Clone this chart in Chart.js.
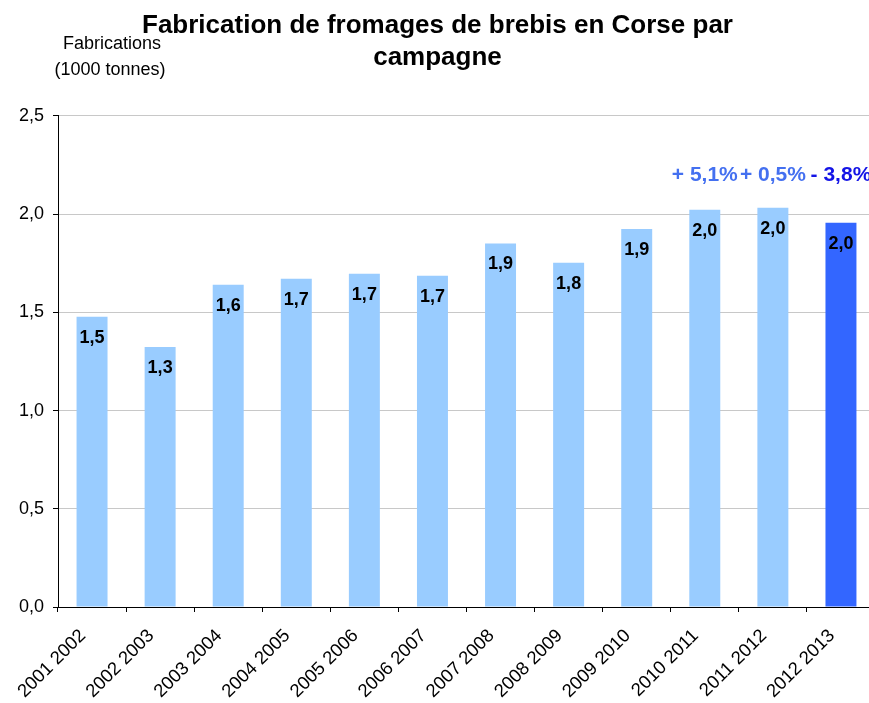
<!DOCTYPE html>
<html lang="fr">
<head>
    <meta charset="UTF-8">
    <title>Fabrication de fromages de brebis en Corse par campagne</title>
    <script src="https://cdn.jsdelivr.net/npm/chart.js"></script>
    <style>
        html, body { margin: 0; padding: 0; background: #fff; overflow: hidden; }
        #wrap { width: 880px; height: 703px; }
    </style>
</head>
<body>
    <div id="wrap"><canvas id="mainChart" width="880" height="703"></canvas></div>

    <script>
        // données (milliers de tonnes)
        const campagnes = ['2001 2002', '2002 2003', '2003 2004', '2004 2005', '2005 2006', '2006 2007',
                           '2007 2008', '2008 2009', '2009 2010', '2010 2011', '2011 2012', '2012 2013'];
        const fabrications = [1.478, 1.324, 1.641, 1.671, 1.697, 1.686, 1.851, 1.753, 1.925, 2.023, 2.033, 1.956];
        const variations = [null, null, null, null, null, null, null, null, null, '+ 5,1%', '+ 0,5%', '- 3,8%'];
        const titre = ['Fabrication de fromages de brebis en Corse par', 'campagne'];
        const uniteLignes = ['Fabrications', '(1000 tonnes)'];
        const yMin = 0, yMax = 2.5, yStep = 0.5;

        const FONT = 'Arial, "Liberation Sans", sans-serif';
        const barColors = campagnes.map((c, i) => i === campagnes.length - 1 ? '#3366FF' : '#99CCFF');
        const variationColors = ['#4470F0', '#4470F0', '#1414E6'];

        function formatValue(v) {
            return v.toFixed(1).replace('.', ',');
        }

        const labelsPlugin = {
            id: 'labels',
            afterDraw(chart) {
                const ctx = chart.ctx;
                const meta = chart.getDatasetMeta(0);
                const yScale = chart.scales.y;
                ctx.save();
                ctx.textAlign = 'center';
                ctx.textBaseline = 'middle';

                // valeurs dans les barres
                ctx.fillStyle = '#000';
                ctx.font = 'bold 18px ' + FONT;
                meta.data.forEach((bar, i) => {
                    ctx.fillText(formatValue(fabrications[i]), bar.x, bar.y + 21);
                });

                // évolutions au-dessus des dernières barres
                ctx.font = 'bold 21px ' + FONT;
                let k = 0;
                meta.data.forEach((bar, i) => {
                    if (!variations[i]) return;
                    ctx.fillStyle = variationColors[k++];
                    ctx.fillText(variations[i], bar.x, yScale.getPixelForValue(2.2));
                });

                // unité en haut à gauche
                ctx.fillStyle = '#000';
                ctx.font = '18px ' + FONT;
                ctx.fillText(uniteLignes[0], 112, 44);
                ctx.fillText(uniteLignes[1], 110, 70);
                ctx.restore();
            }
        };

        const ctx = document.getElementById('mainChart').getContext('2d');
        new Chart(ctx, {
            type: 'bar',
            data: {
                labels: campagnes,
                datasets: [{
                    data: fabrications,
                    backgroundColor: barColors,
                    borderWidth: 0,
                    categoryPercentage: 1,
                    barPercentage: 0.455
                }]
            },
            options: {
                responsive: false,
                animation: false,
                layout: { padding: { left: 0, right: 5, top: 0, bottom: 0 } },
                plugins: {
                    legend: { display: false },
                    tooltip: { enabled: false },
                    title: {
                        display: true,
                        text: titre,
                        color: '#000',
                        font: { family: FONT, size: 26, weight: 'bold', lineHeight: 1.23 },
                        padding: { top: 10, bottom: 42 }
                    }
                },
                scales: {
                    x: {
                        grid: { drawOnChartArea: false, tickLength: 5, tickColor: '#000', offset: true },
                        border: { color: '#000' },
                        ticks: {
                            minRotation: 45,
                            maxRotation: 45,
                            color: '#000',
                            padding: 13,
                            labelOffset: -9,
                            font: { family: FONT, size: 18.5 }
                        },
                        afterFit(scale) { scale.height = 96; }
                    },
                    y: {
                        min: yMin,
                        max: yMax,
                        ticks: {
                            stepSize: yStep,
                            padding: 9,
                            color: '#000',
                            font: { family: FONT, size: 18 },
                            callback: v => formatValue(v)
                        },
                        grid: { color: '#c8c8c8', tickColor: '#000', tickLength: 5 },
                        border: { color: '#000' },
                        afterFit(scale) { scale.width = 58; }
                    }
                }
            },
            plugins: [labelsPlugin]
        });
    </script>
</body>
</html>
